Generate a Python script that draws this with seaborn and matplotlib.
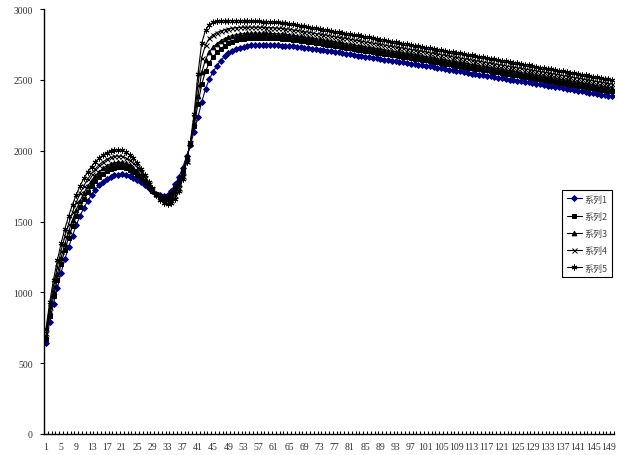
import numpy as np
import pandas as pd
import matplotlib
matplotlib.use("Agg")
import matplotlib.pyplot as plt
import seaborn as sns

sns.set_style("white")
plt.rcParams['font.family'] = ['Liberation Serif', 'Noto Sans CJK SC', 'DejaVu Sans']

# x categories 1..150
categories = list(range(1, 151))
series_names = ['系列1', '系列2', '系列3', '系列4', '系列5']

s1 = [640, 790, 920, 1030, 1140, 1235, 1320, 1400, 1475, 1540,
      1597, 1645, 1688, 1725, 1757, 1782, 1802, 1817, 1826, 1831,
      1832, 1829, 1821, 1809, 1794, 1776, 1755, 1733, 1712, 1697,
      1686, 1682, 1690, 1718, 1764, 1815, 1880, 1960, 2040, 2135,
      2235, 2343, 2435, 2505, 2557, 2600, 2635, 2665, 2688, 2705,
      2718, 2728, 2735, 2740, 2744, 2746, 2747, 2747, 2747, 2746,
      2745, 2744, 2742, 2741, 2739, 2736, 2733, 2730, 2727, 2724,
      2721, 2717, 2713, 2709, 2705, 2701, 2697, 2693, 2689, 2685,
      2680, 2676, 2671, 2667, 2663, 2659, 2655, 2651, 2647, 2643,
      2639, 2635, 2631, 2627, 2623, 2619, 2615, 2611, 2607, 2603,
      2599, 2595, 2591, 2586, 2581, 2577, 2572, 2568, 2563, 2559,
      2554, 2549, 2544, 2540, 2536, 2532, 2528, 2524, 2520, 2516,
      2511, 2506, 2502, 2498, 2494, 2490, 2486, 2482, 2478, 2474,
      2470, 2465, 2460, 2456, 2451, 2446, 2442, 2437, 2432, 2428,
      2423, 2419, 2414, 2410, 2405, 2401, 2396, 2392, 2387, 2383]

s2 = [670, 832, 971, 1089, 1202, 1300, 1386, 1466, 1540, 1604,
      1659, 1707, 1748, 1784, 1814, 1838, 1857, 1871, 1879, 1884,
      1883, 1877, 1866, 1850, 1830, 1805, 1777, 1747, 1718, 1695,
      1677, 1667, 1671, 1692, 1733, 1785, 1856, 1948, 2046, 2173,
      2327, 2468, 2560, 2621, 2661, 2694, 2719, 2741, 2757, 2769,
      2778, 2785, 2789, 2793, 2795, 2796, 2797, 2796, 2796, 2795,
      2794, 2792, 2790, 2789, 2786, 2783, 2780, 2776, 2772, 2769,
      2765, 2761, 2757, 2753, 2749, 2744, 2740, 2736, 2732, 2728,
      2723, 2718, 2714, 2709, 2705, 2701, 2697, 2692, 2688, 2684,
      2680, 2676, 2672, 2667, 2663, 2659, 2655, 2650, 2646, 2642,
      2638, 2633, 2629, 2624, 2619, 2615, 2610, 2606, 2601, 2597,
      2592, 2587, 2582, 2578, 2574, 2570, 2566, 2561, 2557, 2553,
      2548, 2543, 2539, 2535, 2531, 2526, 2522, 2518, 2514, 2509,
      2505, 2500, 2495, 2491, 2486, 2481, 2477, 2472, 2467, 2463,
      2458, 2454, 2449, 2445, 2440, 2436, 2431, 2427, 2422, 2418]

s3 = [690, 860, 1005, 1128, 1243, 1343, 1430, 1510, 1583, 1646,
      1701, 1748, 1788, 1823, 1852, 1875, 1894, 1907, 1915, 1919,
      1917, 1910, 1897, 1878, 1854, 1825, 1792, 1757, 1723, 1694,
      1671, 1658, 1658, 1675, 1712, 1765, 1840, 1940, 2050, 2198,
      2388, 2552, 2643, 2698, 2731, 2756, 2775, 2791, 2803, 2812,
      2818, 2823, 2826, 2828, 2829, 2830, 2830, 2829, 2829, 2828,
      2826, 2825, 2823, 2821, 2818, 2814, 2811, 2807, 2803, 2799,
      2795, 2791, 2787, 2782, 2778, 2773, 2769, 2765, 2760, 2756,
      2751, 2747, 2742, 2738, 2733, 2729, 2725, 2720, 2716, 2712,
      2707, 2703, 2699, 2694, 2690, 2686, 2681, 2677, 2673, 2668,
      2664, 2659, 2655, 2650, 2645, 2641, 2636, 2632, 2627, 2623,
      2618, 2613, 2608, 2604, 2599, 2595, 2591, 2586, 2582, 2578,
      2573, 2568, 2564, 2559, 2555, 2551, 2546, 2542, 2538, 2533,
      2529, 2524, 2519, 2515, 2510, 2505, 2501, 2496, 2491, 2487,
      2482, 2478, 2473, 2469, 2464, 2459, 2454, 2450, 2445, 2441]

s4 = [715, 895, 1048, 1176, 1294, 1396, 1485, 1565, 1636, 1699,
      1753, 1799, 1838, 1871, 1900, 1922, 1939, 1952, 1960, 1962,
      1960, 1950, 1934, 1912, 1883, 1849, 1810, 1768, 1728, 1692,
      1663, 1645, 1641, 1654, 1686, 1740, 1820, 1930, 2055, 2229,
      2464, 2656, 2746, 2794, 2818, 2834, 2845, 2854, 2861, 2865,
      2868, 2870, 2871, 2871, 2872, 2871, 2871, 2870, 2869, 2868,
      2867, 2865, 2863, 2860, 2858, 2853, 2849, 2845, 2840, 2837,
      2832, 2827, 2823, 2819, 2814, 2809, 2805, 2800, 2796, 2792,
      2787, 2782, 2778, 2773, 2768, 2764, 2759, 2755, 2750, 2746,
      2741, 2736, 2732, 2728, 2723, 2719, 2714, 2709, 2705, 2701,
      2696, 2691, 2687, 2682, 2677, 2673, 2668, 2663, 2659, 2654,
      2649, 2645, 2640, 2635, 2631, 2627, 2622, 2617, 2613, 2608,
      2603, 2599, 2594, 2590, 2586, 2581, 2576, 2572, 2567, 2563,
      2558, 2554, 2549, 2544, 2540, 2535, 2530, 2526, 2521, 2516,
      2512, 2507, 2502, 2498, 2493, 2488, 2483, 2479, 2474, 2469]

s5 = [740, 930, 1090, 1225, 1345, 1450, 1540, 1620, 1690, 1752,
      1805, 1850, 1888, 1920, 1947, 1968, 1985, 1997, 2004, 2006,
      2002, 1990, 1972, 1946, 1913, 1873, 1828, 1780, 1733, 1690,
      1655, 1633, 1625, 1632, 1660, 1715, 1800, 1920, 2060, 2260,
      2540, 2760, 2850, 2890, 2905, 2912, 2915, 2917, 2918, 2918,
      2918, 2917, 2916, 2915, 2914, 2913, 2912, 2911, 2910, 2909,
      2907, 2905, 2903, 2900, 2897, 2892, 2888, 2883, 2878, 2874,
      2869, 2864, 2860, 2855, 2850, 2845, 2841, 2836, 2831, 2827,
      2822, 2817, 2813, 2808, 2803, 2799, 2794, 2789, 2784, 2780,
      2775, 2770, 2766, 2761, 2756, 2752, 2747, 2742, 2738, 2733,
      2728, 2723, 2719, 2714, 2709, 2705, 2700, 2695, 2691, 2686,
      2681, 2677, 2672, 2667, 2662, 2658, 2653, 2648, 2644, 2639,
      2634, 2630, 2625, 2620, 2616, 2611, 2606, 2602, 2597, 2592,
      2587, 2583, 2578, 2573, 2569, 2564, 2559, 2555, 2550, 2545,
      2541, 2536, 2531, 2527, 2522, 2517, 2512, 2508, 2503, 2498]

frames = []
for name, vals in zip(series_names, [s1, s2, s3, s4, s5]):
    frames.append(pd.DataFrame({'pos': np.arange(len(categories)),
                                'value': vals, 'series': name}))
df = pd.concat(frames, ignore_index=True)

colors = {'系列1': '#000080', '系列2': 'black', '系列3': 'black',
          '系列4': 'black', '系列5': 'black'}
markers = {'系列1': 'D', '系列2': 's', '系列3': '^',
           '系列4': 'x', '系列5': (6, 2, 0)}
msizes = {'系列1': 3.0, '系列2': 3.2, '系列3': 3.4, '系列4': 3.6, '系列5': 4.2}

fig = plt.figure(figsize=(6.18, 4.56), dpi=100)
ax = fig.add_axes([44 / 618, 21 / 456, 570 / 618, 425 / 456])

for name in series_names:
    sub = df[df['series'] == name]
    sns.lineplot(data=sub, x='pos', y='value', ax=ax, color=colors[name],
                 marker=markers[name], markersize=msizes[name],
                 markeredgecolor=colors[name], markeredgewidth=0.7,
                 linewidth=0.8, label=name)

ax.set_xlim(-0.5, len(categories) - 0.5)
ax.set_ylim(0, 3000)
ax.set_yticks(range(0, 3001, 500))
ax.set_xticks(np.arange(0, len(categories), 4))
ax.set_xticklabels([str(c) for c in categories[::4]])
ax.set_xticks(np.arange(-0.5, len(categories), 1), minor=True)
ax.set_xlabel('')
ax.set_ylabel('')

for side in ['top', 'right']:
    ax.spines[side].set_visible(False)
for side in ['left', 'bottom']:
    ax.spines[side].set_color('black')
    ax.spines[side].set_linewidth(1.0)

ax.tick_params(axis='x', which='major', length=0, labelsize=7, pad=6)
ax.tick_params(axis='x', which='minor', direction='in', length=2.5,
               width=0.8, color='black', bottom=True)
ax.tick_params(axis='y', which='major', direction='out', length=3,
               width=0.8, color='black', labelsize=7, pad=5, left=True)
for lab in ax.get_xticklabels() + ax.get_yticklabels():
    lab.set_color('#333333')

leg = ax.legend(loc='upper left', bbox_to_anchor=(562 / 618, 1 - 191 / 456),
                bbox_transform=fig.transFigure, frameon=True, fancybox=False,
                framealpha=1, edgecolor='black', fontsize=6.5,
                handlelength=1.7, handletextpad=0.3, labelspacing=0.9,
                borderpad=0.5, borderaxespad=0)
leg.get_frame().set_linewidth(0.8)
for t in leg.get_texts():
    t.set_family(['Noto Sans CJK SC', 'DejaVu Sans'])
    t.set_color('#444444')

fig.savefig('out.png', dpi=100)
